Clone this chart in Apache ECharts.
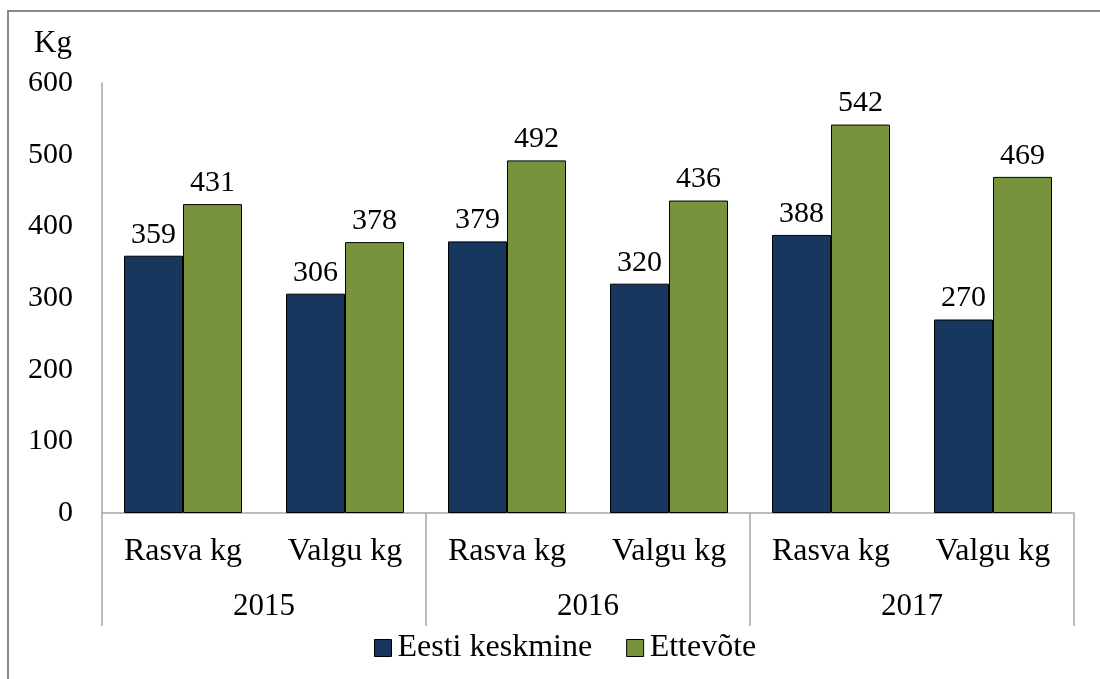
<!DOCTYPE html>
<html>
<head>
<meta charset="utf-8">
<script src="https://cdn.jsdelivr.net/npm/echarts@6/dist/echarts.min.js"></script>
<style>
html,body{margin:0;padding:0;background:#fff;}
#main{width:1100px;height:679px;}
</style>
</head>
<body>
<div id="main"></div>
<script>
var categories = ['Rasva kg', 'Valgu kg', 'Rasva kg', 'Valgu kg', 'Rasva kg', 'Valgu kg'];
var years = ['2015', '2016', '2017'];
var seriesNames = ['Eesti keskmine', 'Ettevõte'];
var eestiKeskmine = [359, 306, 379, 320, 388, 270];
var ettevote = [431, 378, 492, 436, 542, 469];
var yTicks = { min: 0, max: 600, interval: 100 };

var FONT = '"Liberation Serif", "Times New Roman", serif';
var chart = echarts.init(document.getElementById('main'), null, { renderer: 'canvas' });

var labelStyle = { show: true, position: 'top', distance: 6, color: '#000', fontFamily: FONT, fontSize: 30 };

chart.setOption({
  animation: false,
  backgroundColor: '#fff',
  textStyle: { fontFamily: FONT },
  grid: { left: 102, right: 26, top: 83, bottom: 166, containLabel: false },
  legend: {
    left: 369, top: 627,
    itemWidth: 17, itemHeight: 17, itemGap: 34,
    textStyle: { fontFamily: FONT, fontSize: 32, color: '#000', padding: [0, 0, 0, 1] },
    data: [
      { name: seriesNames[0], icon: 'rect', itemStyle: { borderColor: '#000', borderWidth: 1 } },
      { name: seriesNames[1], icon: 'rect', itemStyle: { borderColor: '#000', borderWidth: 1 } }
    ]
  },
  graphic: [
    { type: 'rect', shape: { x: 8, y: 11, width: 1200, height: 800 }, style: { fill: 'none', stroke: '#8a8a8a', lineWidth: 2 }, silent: true },
    { type: 'text', left: 34, top: 28, style: { text: 'Kg', font: '31px ' + FONT, fill: '#000' } }
  ],
  xAxis: [
    {
      type: 'category', data: categories, position: 'bottom',
      axisLine: { show: true, lineStyle: { color: '#a6a6a6', width: 1.5 } },
      axisTick: { show: false },
      axisLabel: { color: '#000', fontFamily: FONT, fontSize: 32, margin: 23, interval: 0 }
    },
    {
      type: 'category', data: years, position: 'bottom', gridIndex: 0,
      axisLine: { show: false },
      axisTick: { show: true, length: 113, lineStyle: { color: '#a6a6a6', width: 1.5 } },
      axisLabel: { color: '#000', fontFamily: FONT, fontSize: 31, margin: 78, interval: 0 }
    }
  ],
  yAxis: {
    type: 'value', min: yTicks.min, max: yTicks.max, interval: yTicks.interval,
    axisLine: { show: true, lineStyle: { color: '#a6a6a6', width: 1.5 } },
    axisTick: { show: false },
    splitLine: { show: false },
    axisLabel: { color: '#000', fontFamily: FONT, fontSize: 30, margin: 29, padding: [3, 0, 0, 0] }
  },
  series: [
    {
      name: seriesNames[0], type: 'bar', xAxisIndex: 0, data: eestiKeskmine,
      barWidth: 59, barGap: '0%',
      itemStyle: { color: '#17375E', borderColor: '#000', borderWidth: 1 },
      label: labelStyle
    },
    {
      name: seriesNames[1], type: 'bar', xAxisIndex: 0, data: ettevote,
      barWidth: 59, barGap: '0%',
      itemStyle: { color: '#77933C', borderColor: '#000', borderWidth: 1 },
      label: labelStyle
    }
  ]
});
</script>
</body>
</html>
